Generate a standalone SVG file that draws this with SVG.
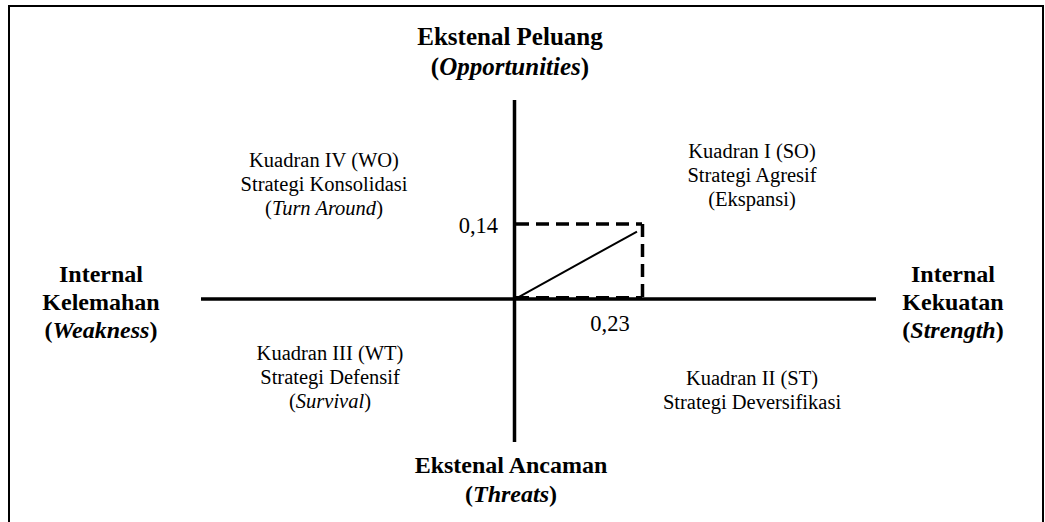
<svg xmlns="http://www.w3.org/2000/svg" width="1045" height="522" viewBox="0 0 1045 522">
<style>
text{font-family:"Liberation Serif","Times New Roman",serif;fill:#000}
.b{font-weight:bold;font-size:24px}
.t{font-weight:bold;font-size:25px}
.q{font-size:20.5px}
.n{font-size:22.5px}
.axis{stroke:#000;stroke-width:3.5;fill:none}
.dash{stroke:#000;stroke-width:3.5;stroke-dasharray:13 7;fill:none}
.border{stroke:#000;stroke-width:2;fill:none}
</style>
<rect width="1045" height="522" fill="#fff"/>
<g id="frame">
<path class="border" d="M9,522 V6 H1043 V522"/>
</g>
<g id="connectors">
<line class="axis" x1="201" y1="299" x2="876" y2="299"/>
<line class="axis" x1="514.5" y1="100" x2="514.5" y2="442"/>
<path class="dash" d="M516,224 H642"/>
<path class="dash" d="M642.5,224 V299"/>
<path class="dash" d="M516,297 H642" style="stroke-width:2"/>
<line x1="515" y1="299" x2="637" y2="231.5" stroke="#000" stroke-width="2"/>
</g>
<g id="top-label">
<text class="t" x="510" y="45" text-anchor="middle">Ekstenal Peluang</text>
<text class="t" x="510" y="75" text-anchor="middle">(<tspan font-style="italic">Opportunities</tspan>)</text>
</g>
<g id="bottom-label">
<text class="b" x="511" y="473" text-anchor="middle">Ekstenal Ancaman</text>
<text class="b" x="511" y="502" text-anchor="middle">(<tspan font-style="italic">Threats</tspan>)</text>
</g>
<g id="left-label">
<text class="b" x="101" y="282" text-anchor="middle">Internal</text>
<text class="b" x="101" y="310" text-anchor="middle">Kelemahan</text>
<text class="b" x="101" y="338" text-anchor="middle">(<tspan font-style="italic">Weakness</tspan>)</text>
</g>
<g id="right-label">
<text class="b" x="953" y="282" text-anchor="middle">Internal</text>
<text class="b" x="953" y="310" text-anchor="middle">Kekuatan</text>
<text class="b" x="953" y="338" text-anchor="middle">(<tspan font-style="italic">Strength</tspan>)</text>
</g>
<g id="quadrant-IV">
<text class="q" x="324" y="167" text-anchor="middle">Kuadran IV (WO)</text>
<text class="q" x="324" y="191" text-anchor="middle">Strategi Konsolidasi</text>
<text class="q" x="324" y="215" text-anchor="middle">(<tspan font-style="italic">Turn Around</tspan>)</text>
</g>
<g id="quadrant-I">
<text class="q" x="752" y="158" text-anchor="middle">Kuadran I (SO)</text>
<text class="q" x="752" y="182" text-anchor="middle">Strategi Agresif</text>
<text class="q" x="752" y="206" text-anchor="middle">(Ekspansi)</text>
</g>
<g id="quadrant-III">
<text class="q" x="330" y="360" text-anchor="middle">Kuadran III (WT)</text>
<text class="q" x="330" y="384" text-anchor="middle">Strategi Defensif</text>
<text class="q" x="330" y="408" text-anchor="middle">(<tspan font-style="italic">Survival</tspan>)</text>
</g>
<g id="quadrant-II">
<text class="q" x="752" y="385" text-anchor="middle">Kuadran II (ST)</text>
<text class="q" x="752" y="409" text-anchor="middle">Strategi Deversifikasi</text>
</g>
<g id="values">
<text class="n" x="498" y="233" text-anchor="end">0,14</text>
<text class="n" x="610" y="331" text-anchor="middle">0,23</text>
</g>
</svg>
